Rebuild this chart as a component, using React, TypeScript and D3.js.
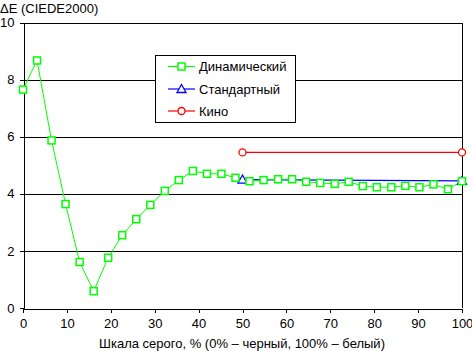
import React, { useEffect, useRef } from 'react'
import * as d3 from 'd3'

// grey scale level, %
const dynX = [0, 3.2, 6.5, 9.7, 12.9, 16.1, 19.4, 22.6, 25.8, 29, 32.3, 35.5, 38.7, 41.9, 45.2, 48.4,
  51.6, 54.8, 58.1, 61.3, 64.5, 67.7, 71, 74.2, 77.4, 80.6, 83.9, 87.1, 90.3, 93.5, 96.8, 100]
const dynY = [7.65, 8.67, 5.87, 3.64, 1.61, 0.59, 1.76, 2.55, 3.11, 3.61, 4.1, 4.48, 4.8, 4.7, 4.7, 4.56,
  4.44, 4.48, 4.51, 4.51, 4.42, 4.38, 4.35, 4.42, 4.27, 4.23, 4.23, 4.28, 4.23, 4.33, 4.16, 4.44]
const stdX = [50, 100]
const stdY = [4.5, 4.45]
const cinX = [50, 100]
const cinY = [5.45, 5.45]

const xTicks = [0, 10, 20, 30, 40, 50, 60, 70, 80, 90, 100]
const yTicks = [0, 2, 4, 6, 8, 10]
const seriesNames = ['Динамический', 'Стандартный', 'Кино']

const W = 472
const H = 351
const FONT = 'Liberation Sans, Arial, sans-serif'

function App() {
  const ref = useRef<SVGSVGElement>(null)

  useEffect(() => {
    const svg = d3.select(ref.current)
    svg.selectAll('*').remove()

    const x = d3.scaleLinear().domain([0, 100]).range([23, 462])
    const y = d3.scaleLinear().domain([0, 10]).range([308, 22.5])

    // grid
    svg.append('g').selectAll('line').data(yTicks.filter(d => d > 0)).enter().append('line')
      .attr('x1', x(0)).attr('x2', x(100))
      .attr('y1', d => Math.round(y(d)) + 0.5).attr('y2', d => Math.round(y(d)) + 0.5)
      .attr('stroke', '#000').attr('shape-rendering', 'crispEdges')

    // right border
    svg.append('line').attr('x1', Math.round(x(100)) + 0.5).attr('x2', Math.round(x(100)) + 0.5)
      .attr('y1', y(10)).attr('y2', y(0)).attr('stroke', '#000').attr('shape-rendering', 'crispEdges')

    // y axis
    const yAxis = d3.axisLeft(y).tickValues(yTicks).tickSize(4).tickSizeOuter(0).tickPadding(5)
    const gy = svg.append('g').attr('transform', `translate(${Math.round(x(0)) + 0.5},0)`).call(yAxis)
    // x axis
    const xAxis = d3.axisBottom(x).tickValues(xTicks).tickSize(4).tickSizeOuter(0).tickPadding(6)
    const gx = svg.append('g').attr('transform', `translate(0,${Math.round(y(0)) + 0.5})`).call(xAxis)
    for (const g of [gx, gy]) {
      g.selectAll('path').attr('stroke', '#000').attr('shape-rendering', 'crispEdges')
      g.selectAll('line').attr('stroke', '#000').attr('shape-rendering', 'crispEdges')
      g.selectAll('text').attr('font-family', FONT).attr('font-size', 13).attr('fill', '#000')
    }

    svg.append('text').attr('x', 0).attr('y', 13).attr('font-family', FONT).attr('font-size', 13)
      .text('ΔE (CIEDE2000)')
    svg.append('text').attr('x', 242).attr('y', 348).attr('text-anchor', 'middle')
      .attr('font-family', FONT).attr('font-size', 13)
      .text('Шкала серого, % (0% – черный, 100% – белый)')

    // legend box
    svg.append('rect').attr('x', 155.5).attr('y', 55.5).attr('width', 140).attr('height', 67)
      .attr('fill', '#fff').attr('stroke', '#000')

    const line = d3.line<[number, number]>().x(d => x(d[0])).y(d => y(d[1]))
    const dyn = dynX.map((v, i) => [v, dynY[i]] as [number, number])
    const std = stdX.map((v, i) => [v, stdY[i]] as [number, number])
    const cin = cinX.map((v, i) => [v, cinY[i]] as [number, number])

    svg.append('path').attr('d', line(cin)).attr('fill', 'none').attr('stroke', '#ff0000').attr('stroke-width', 1.3)
    svg.append('path').attr('d', line(std)).attr('fill', 'none').attr('stroke', '#0000ff').attr('stroke-width', 1.3)
    svg.append('path').attr('d', line(dyn)).attr('fill', 'none').attr('stroke', '#00ff00').attr('stroke-width', 1)

    const square = (g: any, cx: number, cy: number) =>
      g.append('rect').attr('x', cx - 3.5).attr('y', cy - 3.5).attr('width', 7).attr('height', 7)
        .attr('fill', '#fff').attr('stroke', '#00ff00').attr('stroke-width', 1.5)
    const triangle = (g: any, cx: number, cy: number) =>
      g.append('path').attr('d', `M${cx},${cy - 4.5}L${cx + 4.5},${cy + 3.5}L${cx - 4.5},${cy + 3.5}Z`)
        .attr('fill', '#fff').attr('stroke', '#0000ff').attr('stroke-width', 1.3)
    const circle = (g: any, cx: number, cy: number) =>
      g.append('circle').attr('cx', cx).attr('cy', cy).attr('r', 3.5)
        .attr('fill', '#fff').attr('stroke', '#ff0000').attr('stroke-width', 1.3)

    cin.forEach(d => circle(svg, x(d[0]), y(d[1])))
    std.forEach(d => triangle(svg, x(d[0]), y(d[1])))
    dyn.forEach(d => square(svg, x(d[0]), y(d[1])))

    // legend entries
    const colors = ['#00ff00', '#0000ff', '#ff0000']
    const markers = [square, triangle, circle]
    const rowY = [66, 88.5, 110.5]
    seriesNames.forEach((name, i) => {
      svg.append('line').attr('x1', 168).attr('x2', 195).attr('y1', rowY[i] + 0.5).attr('y2', rowY[i] + 0.5)
        .attr('stroke', colors[i]).attr('stroke-width', 1.2)
      markers[i](svg, 181.5, rowY[i] + 0.5)
      svg.append('text').attr('x', 199).attr('y', rowY[i] + 5).attr('font-family', FONT).attr('font-size', 13)
        .text(name)
    })
  }, [])

  return (
    <svg ref={ref} width={W} height={H} style={{ position: 'absolute', left: 0, top: 0, background: '#fff' }} />
  )
}

export default App
